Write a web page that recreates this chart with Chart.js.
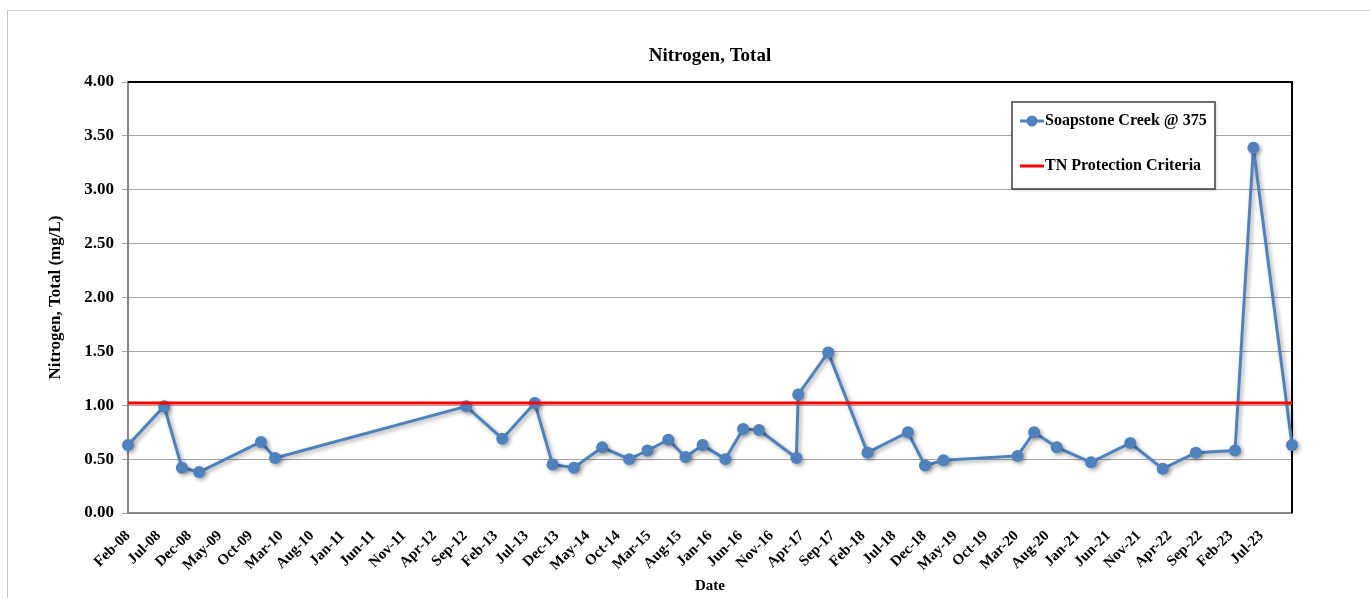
<!DOCTYPE html>
<html>
<head>
<meta charset="utf-8">
<title>Nitrogen, Total</title>
<script src="https://cdn.jsdelivr.net/npm/chart.js@4.4.0/dist/chart.umd.min.js"></script>
<style>
    html, body { margin: 0; padding: 0; background: #fff; }
    #frame { position: absolute; left: 7px; top: 10px; width: 1362px; height: 600px; border: 1px solid #c8c8c8; }
    #chart { position: absolute; left: 0; top: 0; }
</style>
</head>
<body>
<div id="frame"></div>
<canvas id="chart" width="1370" height="598"></canvas>
<script>
// sample dates and results for Soapstone Creek @ 375
const sampleDates = [
    '2008-02-01', '2008-07-28', '2008-10-25', '2009-01-19', '2009-11-22', '2010-02-01',
    '2012-09-07', '2013-03-04', '2013-08-13', '2013-11-10', '2014-02-25', '2014-07-13',
    '2014-11-25', '2015-02-25', '2015-06-07', '2015-09-01', '2015-11-25', '2016-03-16',
    '2016-06-13', '2016-09-01', '2017-03-04', '2017-03-13', '2017-08-10', '2018-02-22',
    '2018-09-10', '2018-12-04', '2019-03-04', '2020-03-07', '2020-05-28', '2020-09-19',
    '2021-03-07', '2021-09-19', '2022-02-28', '2022-08-10', '2023-02-22', '2023-05-22',
    '2023-12-01'
];
const nitrogenValues = [
    0.63, 0.99, 0.42, 0.38, 0.66, 0.51,
    0.99, 0.69, 1.02, 0.45, 0.42, 0.61,
    0.50, 0.58, 0.68, 0.52, 0.63, 0.50,
    0.78, 0.77, 0.51, 1.10, 1.49, 0.56,
    0.75, 0.44, 0.49, 0.53, 0.75, 0.61,
    0.47, 0.65, 0.41, 0.56, 0.58, 3.39,
    0.63
];
const criteriaValue = 1.02;

const tickLabels = [
    'Feb-08', 'Jul-08', 'Dec-08', 'May-09', 'Oct-09', 'Mar-10', 'Aug-10', 'Jan-11',
    'Jun-11', 'Nov-11', 'Apr-12', 'Sep-12', 'Feb-13', 'Jul-13', 'Dec-13', 'May-14',
    'Oct-14', 'Mar-15', 'Aug-15', 'Jan-16', 'Jun-16', 'Nov-16', 'Apr-17', 'Sep-17',
    'Feb-18', 'Jul-18', 'Dec-18', 'May-19', 'Oct-19', 'Mar-20', 'Aug-20', 'Jan-21',
    'Jun-21', 'Nov-21', 'Apr-22', 'Sep-22', 'Feb-23', 'Jul-23'
];
const axisEnd = '2023-12-01';
const chartTitle = 'Nitrogen, Total';

// months since Feb 2008, so the linear axis steps 5 months per tick
function toMonths(dateStr) {
    const [y, m, d] = dateStr.split('-').map(Number);
    return (y - 2008) * 12 + (m - 2) + (d - 1) / 30;
}

const serif = "'Liberation Serif', 'Times New Roman', serif";
const blue = '#4f81bd';
const xMax = toMonths(axisEnd);

const seriesShadow = {
    id: 'seriesShadow',
    beforeDatasetDraw(chart, args) {
        if (args.index !== 0) return;
        const ctx = chart.ctx;
        ctx.save();
        ctx.shadowColor = 'rgba(0, 0, 0, 0.35)';
        ctx.shadowBlur = 4;
        ctx.shadowOffsetX = 2;
        ctx.shadowOffsetY = 2;
    },
    afterDatasetDraw(chart, args) {
        if (args.index !== 0) return;
        chart.ctx.restore();
    }
};

// black top/right edges of the plot, title centred over the plot
const plotFrame = {
    id: 'plotFrame',
    beforeDatasetsDraw(chart) {
        const { ctx, chartArea } = chart;
        ctx.save();
        ctx.strokeStyle = '#000';
        ctx.lineWidth = 2;
        ctx.beginPath();
        ctx.moveTo(chartArea.left, chartArea.top);
        ctx.lineTo(chartArea.right, chartArea.top);
        ctx.lineTo(chartArea.right, chartArea.bottom);
        ctx.stroke();

        ctx.fillStyle = '#000';
        ctx.font = 'bold 19px ' + serif;
        ctx.textAlign = 'center';
        ctx.textBaseline = 'middle';
        ctx.fillText(chartTitle, (chartArea.left + chartArea.right) / 2, chartArea.top - 26);
        ctx.restore();
    }
};

const boxLegend = {
    id: 'boxLegend',
    afterDraw(chart) {
        const { ctx, chartArea } = chart;
        const w = 203, h = 87;
        const x = chartArea.right - 77 - w;
        const y = chartArea.top + 20;
        const series = chart.data.datasets[0];
        const criteria = chart.data.datasets[1];

        ctx.save();
        ctx.shadowColor = 'rgba(0, 0, 0, 0.25)';
        ctx.shadowBlur = 3;
        ctx.shadowOffsetX = 1;
        ctx.shadowOffsetY = 1;
        ctx.fillStyle = '#fff';
        ctx.fillRect(x, y, w, h);
        ctx.shadowColor = 'transparent';
        ctx.strokeStyle = '#404040';
        ctx.lineWidth = 1.5;
        ctx.strokeRect(x, y, w, h);

        ctx.font = 'bold 16px ' + serif;
        ctx.fillStyle = '#000';
        ctx.textBaseline = 'middle';

        const y1 = y + 19;
        ctx.strokeStyle = series.borderColor;
        ctx.lineWidth = 3;
        ctx.beginPath();
        ctx.moveTo(x + 8, y1);
        ctx.lineTo(x + 32, y1);
        ctx.stroke();
        ctx.fillStyle = series.pointBackgroundColor;
        ctx.beginPath();
        ctx.arc(x + 20, y1, 5.5, 0, Math.PI * 2);
        ctx.fill();
        ctx.fillStyle = '#000';
        ctx.fillText(series.label, x + 33, y1);

        const y2 = y + 64;
        ctx.strokeStyle = criteria.borderColor;
        ctx.lineWidth = 3;
        ctx.beginPath();
        ctx.moveTo(x + 8, y2);
        ctx.lineTo(x + 32, y2);
        ctx.stroke();
        ctx.fillText(criteria.label, x + 33, y2);
        ctx.restore();
    }
};

new Chart(document.getElementById('chart').getContext('2d'), {
    type: 'line',
    data: {
        datasets: [
            {
                label: 'Soapstone Creek @ 375',
                data: sampleDates.map((d, i) => ({ x: toMonths(d), y: nitrogenValues[i] })),
                borderColor: blue,
                backgroundColor: blue,
                pointBackgroundColor: blue,
                pointBorderWidth: 0,
                pointRadius: 6,
                borderWidth: 3,
                tension: 0,
                clip: false,
                order: 1
            },
            {
                label: 'TN Protection Criteria',
                data: [{ x: 0, y: criteriaValue }, { x: xMax, y: criteriaValue }],
                borderColor: '#ff0000',
                backgroundColor: '#ff0000',
                pointRadius: 0,
                borderWidth: 3,
                order: 0
            }
        ]
    },
    options: {
        responsive: false,
        animation: false,
        layout: {
            padding: { left: 42, right: 78, top: 82, bottom: 0 }
        },
        plugins: {
            legend: { display: false },
            tooltip: { enabled: false },
            title: { display: false }
        },
        scales: {
            x: {
                type: 'linear',
                min: 0,
                max: xMax,
                afterFit: scale => { scale.height = 85; },
                ticks: {
                    stepSize: 5,
                    autoSkip: false,
                    minRotation: 45,
                    maxRotation: 45,
                    padding: 14,
                    color: '#000',
                    font: { family: serif, size: 15, weight: 'bold' },
                    callback: value => tickLabels[Math.round(value / 5)] ?? ''
                },
                grid: { display: false, drawTicks: false },
                border: { color: '#868686', width: 2 },
                title: {
                    display: true,
                    text: 'Date',
                    color: '#000',
                    padding: 3,
                    font: { family: serif, size: 15, weight: 'bold' }
                }
            },
            y: {
                min: 0,
                max: 4,
                afterFit: scale => { scale.width = 86; },
                ticks: {
                    stepSize: 0.5,
                    padding: 8,
                    color: '#000',
                    font: { family: serif, size: 17, weight: 'bold' },
                    callback: value => value.toFixed(2)
                },
                grid: { color: '#a6a6a6', lineWidth: 1, tickLength: 6 },
                border: { color: '#868686', width: 2 },
                title: {
                    display: true,
                    text: 'Nitrogen, Total (mg/L)',
                    color: '#000',
                    padding: 3,
                    font: { family: serif, size: 17, weight: 'bold' }
                }
            }
        }
    },
    plugins: [seriesShadow, plotFrame, boxLegend]
});
</script>
</body>
</html>
